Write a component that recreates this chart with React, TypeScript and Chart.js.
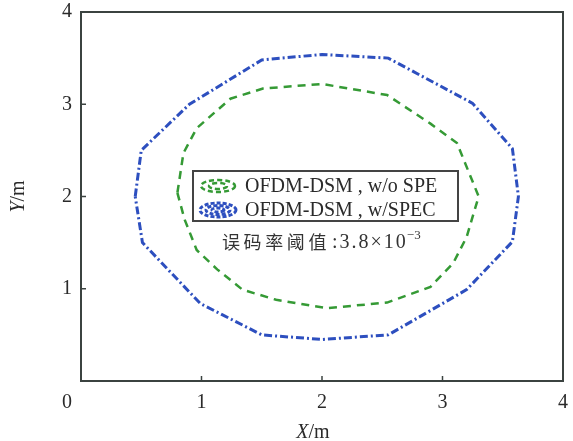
import React, { useEffect, useRef } from "react";
import { Chart, registerables } from "chart.js";

Chart.register(...registerables);

// Blue contour (OFDM-DSM, w/SPEC)
const blueX = [0.45, 0.5, 0.9, 1.5, 2.0, 2.55, 3.25, 3.58, 3.63, 3.58, 3.2, 2.55, 2.0, 1.5, 0.99, 0.51, 0.45];
const blueY = [2.0, 2.5, 3.0, 3.48, 3.54, 3.5, 3.01, 2.52, 2.0, 1.51, 0.99, 0.5, 0.45, 0.5, 0.84, 1.5, 2.0];

// Green contour (OFDM-DSM, w/o SPE)
const greenX = [0.8, 0.85, 0.96, 1.24, 1.51, 2.0, 2.54, 2.9, 3.12, 3.3, 3.2, 3.09, 2.9, 2.54, 2.04, 1.62, 1.34, 1.13, 0.96, 0.86, 0.8];
const greenY = [2.04, 2.47, 2.74, 3.06, 3.17, 3.22, 3.1, 2.79, 2.58, 2.0, 1.56, 1.28, 1.02, 0.85, 0.79, 0.88, 0.99, 1.21, 1.42, 1.75, 2.04];

const xTicks = [0, 1, 2, 3, 4];
const yTicks = [0, 1, 2, 3, 4];
const seriesNames = ["OFDM-DSM , w/o SPE", "OFDM-DSM , w/SPEC"];
const annotationCn = ["误", "码", "率", "阈", "值"];
const annotationNum = ":3.8×10";
const annotationExp = "−3";

const BLUE = "#2d4fbf";
const GREEN = "#359a35";
const AXIS = "#3b4340";
const TEXT = "#2a2a2a";
const SERIF = "'Liberation Serif', 'Times New Roman', serif";

const decorPlugin = {
  id: "decor",
  afterDraw(chart: any) {
    const ctx = chart.ctx as CanvasRenderingContext2D;
    const a = chart.chartArea;
    const xs = chart.scales.x;
    const ys = chart.scales.y;
    ctx.save();
    // frame
    ctx.strokeStyle = AXIS;
    ctx.lineWidth = 2;
    ctx.setLineDash([]);
    ctx.strokeRect(a.left, a.top, a.right - a.left, a.bottom - a.top);
    // inward ticks
    ctx.lineWidth = 1.5;
    for (const v of xTicks) {
      if (v === xTicks[0] || v === xTicks[xTicks.length - 1]) continue;
      const px = xs.getPixelForValue(v);
      ctx.beginPath();
      ctx.moveTo(px, a.bottom);
      ctx.lineTo(px, a.bottom - 5);
      ctx.stroke();
    }
    for (const v of yTicks) {
      if (v === yTicks[0] || v === yTicks[yTicks.length - 1]) continue;
      const py = ys.getPixelForValue(v);
      ctx.beginPath();
      ctx.moveTo(a.left, py);
      ctx.lineTo(a.left + 5, py);
      ctx.stroke();
    }
    // shared origin label
    ctx.fillStyle = TEXT;
    ctx.font = `20px ${SERIF}`;
    ctx.textAlign = "center";
    ctx.textBaseline = "middle";
    ctx.fillText(String(xTicks[0]), a.left - 14, a.bottom + 22);

    // X axis title
    {
      const cx = (a.left + a.right) / 2 - 9;
      const cy = 433;
      ctx.font = `italic 20px ${SERIF}`;
      const w1 = ctx.measureText("X").width;
      ctx.font = `20px ${SERIF}`;
      const w2 = ctx.measureText("/m").width;
      const start = cx - (w1 + w2) / 2;
      ctx.textAlign = "left";
      ctx.font = `italic 20px ${SERIF}`;
      ctx.fillText("X", start, cy);
      ctx.font = `20px ${SERIF}`;
      ctx.fillText("/m", start + w1, cy);
    }
    // Y axis title
    {
      ctx.save();
      ctx.translate(19, ys.getPixelForValue(2));
      ctx.rotate(-Math.PI / 2);
      ctx.font = `italic 20px ${SERIF}`;
      const w1 = ctx.measureText("Y").width;
      ctx.font = `20px ${SERIF}`;
      const w2 = ctx.measureText("/m").width;
      const start = -(w1 + w2) / 2;
      ctx.textAlign = "left";
      ctx.textBaseline = "middle";
      ctx.font = `italic 20px ${SERIF}`;
      ctx.fillText("Y", start, 0);
      ctx.font = `20px ${SERIF}`;
      ctx.fillText("/m", start + w1, 0);
      ctx.restore();
    }

    // legend box
    const bx = 193, by = 171, bw = 265, bh = 50;
    ctx.fillStyle = "#ffffff";
    ctx.fillRect(bx, by, bw, bh);
    ctx.strokeStyle = "#444";
    ctx.lineWidth = 2;
    ctx.strokeRect(bx, by, bw, bh);
    const rows = [
      { y: 186, color: GREEN, name: seriesNames[0], radii: [[17, 6], [9, 3]], dash: [5, 3], lw: 2.5 },
      { y: 210, color: BLUE, name: seriesNames[1], radii: [[18, 7], [12, 4.5], [6, 2]], dash: [4, 2], lw: 3 },
    ];
    for (const r of rows) {
      ctx.strokeStyle = r.color;
      ctx.lineWidth = r.lw;
      ctx.setLineDash(r.dash);
      for (const [rx, ry] of r.radii) {
        ctx.beginPath();
        ctx.ellipse(218, r.y, rx, ry, 0, 0, Math.PI * 2);
        ctx.stroke();
      }
      ctx.setLineDash([]);
      ctx.fillStyle = TEXT;
      ctx.font = `20px ${SERIF}`;
      ctx.textAlign = "left";
      ctx.textBaseline = "middle";
      ctx.fillText(r.name, 245, r.y + 1);
    }

    // annotation
    ctx.fillStyle = "#333";
    ctx.font = `18px 'Noto Sans CJK SC'`;
    ctx.textAlign = "left";
    ctx.textBaseline = "middle";
    let x = 222;
    for (const ch of annotationCn) {
      ctx.fillText(ch, x, 242);
      x += 21.6;
    }
    ctx.font = `20px ${SERIF}`;
    (ctx as any).letterSpacing = "2px";
    ctx.fillText(annotationNum, x + 2, 243);
    const wn = ctx.measureText(annotationNum).width;
    (ctx as any).letterSpacing = "0px";
    ctx.font = `13px ${SERIF}`;
    ctx.fillText(annotationExp, x + 2 + wn - 1, 236);
    ctx.restore();
  },
};

export default function App() {
  const ref = useRef<HTMLCanvasElement | null>(null);
  useEffect(() => {
    if (!ref.current) return;
    const chart = new Chart(ref.current, {
      type: "scatter",
      data: {
        datasets: [
          {
            label: seriesNames[0],
            data: greenX.map((x, i) => ({ x, y: greenY[i] })),
            showLine: true,
            borderColor: GREEN,
            borderWidth: 2.5,
            borderDash: [8, 6],
            pointRadius: 0,
            tension: 0,
          },
          {
            label: seriesNames[1],
            data: blueX.map((x, i) => ({ x, y: blueY[i] })),
            showLine: true,
            borderColor: BLUE,
            borderWidth: 3,
            borderDash: [8, 3, 2, 3],
            pointRadius: 0,
            tension: 0,
          },
        ],
      },
      options: {
        responsive: false,
        animation: false,
        layout: { padding: { left: 0, right: 10, top: 12, bottom: 0 } },
        plugins: { legend: { display: false }, tooltip: { enabled: false } },
        scales: {
          x: {
            type: "linear",
            min: xTicks[0],
            max: xTicks[xTicks.length - 1],
            afterBuildTicks: (s: any) => { s.ticks = xTicks.map((v) => ({ value: v })); },
            afterFit: (s: any) => {
              s.height = 60;
              s.paddingLeft = 0;
              s.paddingRight = 0;
              s.paddingTop = 0;
              s.paddingBottom = 0;
            },
            grid: { display: false, drawTicks: false },
            border: { display: false },
            ticks: {
              padding: 10,
              color: TEXT,
              font: { family: SERIF, size: 20 },
              callback: (v: any) => (v === xTicks[0] ? "" : String(v)),
            },
          },
          y: {
            type: "linear",
            min: yTicks[0],
            max: yTicks[yTicks.length - 1],
            afterBuildTicks: (s: any) => { s.ticks = yTicks.map((v) => ({ value: v })); },
            afterFit: (s: any) => {
              s.width = 81;
              s.paddingLeft = 0;
              s.paddingRight = 0;
              s.paddingTop = 0;
              s.paddingBottom = 0;
            },
            grid: { display: false, drawTicks: false },
            border: { display: false },
            ticks: {
              padding: 9,
              color: TEXT,
              font: { family: SERIF, size: 20 },
              callback: (v: any) => (v === yTicks[0] ? "" : String(v)),
            },
          },
        },
      },
      plugins: [decorPlugin],
    });
    return () => chart.destroy();
  }, []);
  return (
    <div style={{ position: "absolute", left: 0, top: 0, width: 573, height: 441, background: "#fff" }}>
      <canvas ref={ref} width={573} height={441} style={{ display: "block" }} />
    </div>
  );
}
